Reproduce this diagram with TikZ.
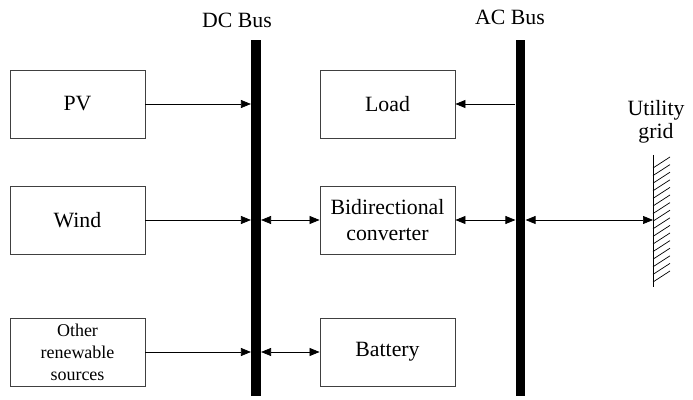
\documentclass[tikz,border=0pt]{standalone}
\usepackage{fontspec}
\setmainfont{Liberation Serif}
\usepackage{tikz}
\usetikzlibrary{positioning,arrows.meta,calc}

\begin{document}
\begin{tikzpicture}[
  x=0.025cm, y=-0.025cm,
  font=\fontsize{15.5}{19}\selectfont,
  >={Triangle[length=0.25cm,width=0.2cm]},
  box/.style={draw=black!75, line width=0.6pt, align=center, inner sep=2pt,
              minimum width=3.375cm, minimum height=1.7cm},
  bus/.style={fill=black, draw=none, inner sep=0pt,
              minimum width=0.24cm, minimum height=8.9cm},
  arrow/.style={->, line width=0.5pt},
  biarrow/.style={<->, line width=0.5pt},
]
\useasboundingbox (0,0) rectangle (693,400);

% Sources
\node[box] (pv)    at (77.5,104) {PV};
\node[box] (wind)  at (77.5,220) {Wind};
\node[box, font=\fontsize{12.8}{15.6}\selectfont] (other) at (77.5,352) {Other\\renewable\\sources};

% Buses
\node[bus] (dcbus) at (256,218) {};
\node[bus] (acbus) at (520.5,218) {};
\node (dclabel) at (237,20) {DC Bus};
\node (aclabel) at (510,17) {AC Bus};

% Loads and storage
\node[box] (load)    at (387.5,104) {Load};
\node[box] (conv)    at (387.5,220) {Bidirectional\\converter};
\node[box] (battery) at (387.5,352) {Battery};

% Utility grid
\coordinate (gtop) at (653,155);
\coordinate (gbot) at (653,287);
\node[align=center, font=\fontsize{15.5}{16}\selectfont] (gridlabel) at (656,122) {Utility\\grid};
\draw[line width=0.6pt] (gtop) -- (gbot);
\foreach \k in {0,...,15}
  \draw[line width=0.5pt] ($(gtop)+(0,13+7.6*\k)$) -- ++(17,-11);

% Flows
\draw[arrow] (pv) -- (dcbus.west |- pv);
\draw[arrow] (wind) -- (dcbus.west |- wind);
\draw[arrow] (other) -- (dcbus.west |- other);
\draw[biarrow] (dcbus.east |- conv) -- (conv);
\draw[biarrow] (dcbus.east |- battery) -- (battery);
\draw[arrow] (acbus.west |- load) -- (load);
\draw[biarrow] (conv) -- (acbus.west |- conv);
\draw[biarrow] (acbus.east |- conv) -- (conv -| gtop);
\end{tikzpicture}
\end{document}
